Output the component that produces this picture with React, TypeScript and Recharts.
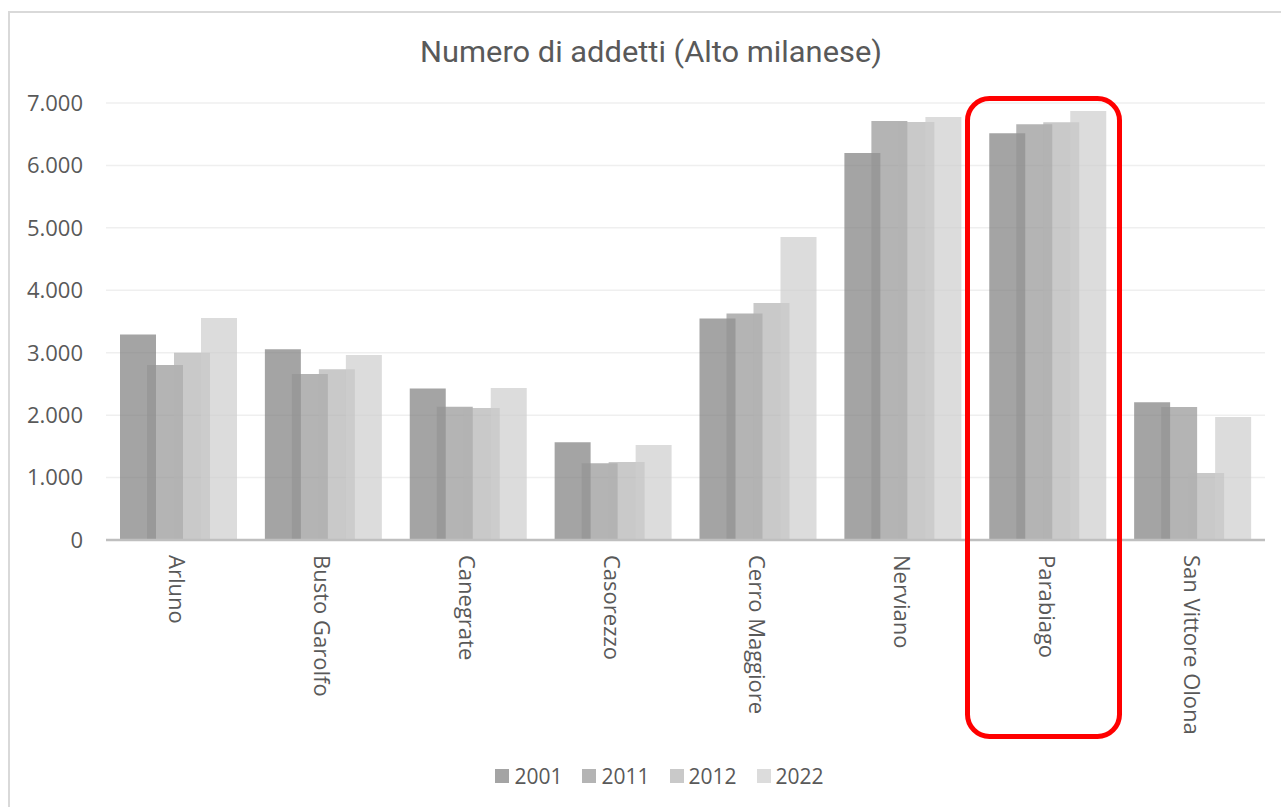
import React from "react";
import {
  BarChart,
  Bar,
  XAxis,
  YAxis,
  CartesianGrid,
  Legend,
} from "recharts";

const categories = [
  "Arluno",
  "Busto Garolfo",
  "Canegrate",
  "Casorezzo",
  "Cerro Maggiore",
  "Nerviano",
  "Parabiago",
  "San Vittore Olona",
];

const v2001 = [3290, 3055, 2425, 1565, 3550, 6200, 6515, 2205];
const v2011 = [2805, 2660, 2135, 1230, 3630, 6710, 6660, 2130];
const v2012 = [3000, 2735, 2115, 1250, 3795, 6695, 6690, 1075];
const v2022 = [3555, 2965, 2435, 1520, 4855, 6775, 6870, 1970];

const yTicks = [0, 1000, 2000, 3000, 4000, 5000, 6000, 7000];

const SERIES = [
  { key: "2001", values: v2001, color: "#7e7e7e" },
  { key: "2011", values: v2011, color: "#949494" },
  { key: "2012", values: v2012, color: "#b2b2b2" },
  { key: "2022", values: v2022, color: "#cdcdcd" },
];

const data = categories.map((name, i) => {
  const row: Record<string, string | number> = { name };
  SERIES.forEach((s) => {
    row[s.key] = s.values[i];
  });
  return row;
});

const FONT = "'Open Sans', 'Noto Sans', sans-serif";
const TEXT = "#595959";

// 7000 -> "7.000"
const fmt = (v: number) => String(v).replace(/\B(?=(\d{3})+(?!\d))/g, ".");

const CategoryTick = ({ x, y, payload }: any) => (
  <g transform={`translate(${x},${y})`}>
    <text
      transform="rotate(90)"
      x={0}
      y={0}
      textAnchor="start"
      dominantBaseline="central"
      fill={TEXT}
      fontSize={22}
      fontFamily={FONT}
    >
      {payload.value}
    </text>
  </g>
);

const LegendRow = () => (
  <div
    style={{
      height: 40,
      display: "flex",
      justifyContent: "center",
      alignItems: "flex-start",
      fontFamily: FONT,
      fontSize: 21,
      lineHeight: "18px",
      color: TEXT,
      paddingLeft: 54,
    }}
  >
    {SERIES.map((s, i) => (
      <div
        key={s.key}
        style={{
          display: "flex",
          alignItems: "center",
          marginRight: i < SERIES.length - 1 ? 20 : 0,
        }}
      >
        <span
          style={{
            width: 14,
            height: 14,
            background: s.color,
            opacity: 0.7,
            marginRight: 5,
            display: "inline-block",
          }}
        />
        <span>{s.key}</span>
      </div>
    ))}
  </div>
);

export default function App() {
  return (
    <div
      style={{
        position: "fixed",
        left: 0,
        top: 0,
        width: 1281,
        height: 807,
        overflow: "hidden",
        background: "#fff",
      }}
    >
      <div
        style={{
          position: "absolute",
          left: 8,
          top: 11,
          width: 1300,
          height: 820,
          border: "2px solid #d9d9d9",
        }}
      />
      <div style={{ position: "absolute", left: 0, top: 0 }}>
        <BarChart
          width={1281}
          height={807}
          data={data}
          margin={{ top: 103, right: 16, bottom: 0, left: 0 }}
          barSize={36}
          barGap={-9}
        >
          <CartesianGrid vertical={false} stroke="#efefef" strokeWidth={1.5} />
          <XAxis
            dataKey="name"
            height={227}
            interval={0}
            tickLine={false}
            tickSize={0}
            tickMargin={15}
            axisLine={{ stroke: "#bfbfbf", strokeWidth: 2.5 }}
            tick={<CategoryTick />}
          />
          <YAxis
            width={106}
            domain={[0, 7000]}
            ticks={yTicks}
            tickFormatter={fmt}
            axisLine={false}
            tickLine={false}
            tickSize={0}
            tickMargin={23}
            tick={{ fill: TEXT, fontSize: 22, fontFamily: FONT }}
          />
          <Legend verticalAlign="bottom" content={() => <LegendRow />} />
          {SERIES.map((s) => (
            <Bar
              key={s.key}
              dataKey={s.key}
              fill={s.color}
              fillOpacity={0.7}
              isAnimationActive={false}
            />
          ))}
        </BarChart>
      </div>
      <svg
        width={1281}
        height={807}
        style={{ position: "absolute", left: 0, top: 0, pointerEvents: "none" }}
      >
        <text
          x={651}
          y={62}
          textAnchor="middle"
          fontFamily="Roboto, sans-serif"
          fontSize={29}
          fill={TEXT}
          textLength={462}
          lengthAdjust="spacingAndGlyphs"
        >
          Numero di addetti (Alto milanese)
        </text>
        {/* highlight box around Parabiago */}
        <rect
          x={967.5}
          y={98.5}
          width={152}
          height={638}
          rx={22}
          ry={22}
          fill="none"
          stroke="#ff0000"
          strokeWidth={5}
        />
      </svg>
    </div>
  );
}
